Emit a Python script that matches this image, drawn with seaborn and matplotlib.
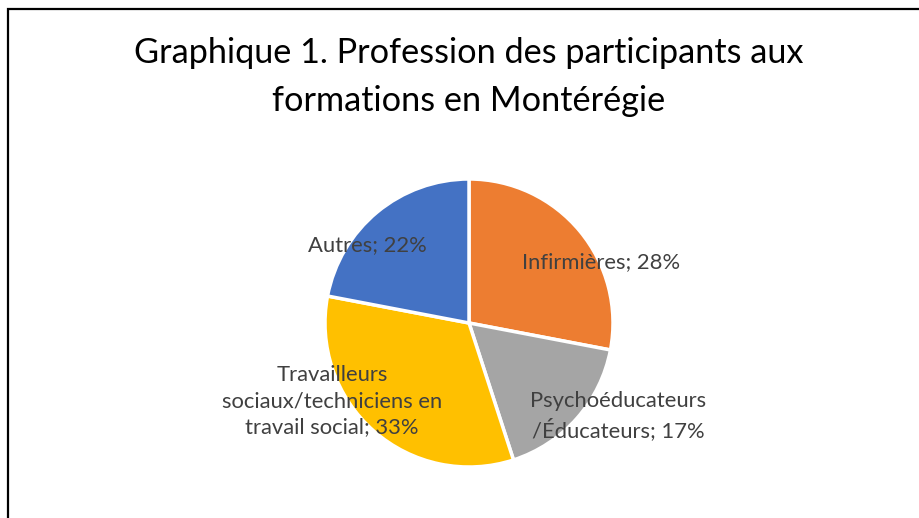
import matplotlib
matplotlib.use("Agg")
import matplotlib.pyplot as plt
import seaborn as sns
from matplotlib.patches import Rectangle

categories = ["Infirmières", "Psychoéducateurs\n/Éducateurs", "Travailleurs\nsociaux/techniciens en\ntravail social", "Autres"]
values = [28, 17, 33, 22]
colors = ["#ED7D31", "#A5A5A5", "#FFC000", "#4472C4"]
title = "Graphique 1. Profession des participants aux\nformations en Montérégie"

sns.set_theme(style="white")
plt.rcParams['font.family'] = ['Lato', 'DejaVu Sans']

W, H = 919, 518
fig = plt.figure(figsize=(W / 100, H / 100), dpi=100)
ax = fig.add_axes([0, 0, 1, 1])

cx, cy, R = 469, H - 323, 144
wedges, _ = ax.pie(values, colors=colors, startangle=90, counterclock=False,
                   center=(cx, cy), radius=R, frame=True,
                   wedgeprops=dict(edgecolor="white", linewidth=2.5))
ax.set_xlim(0, W)
ax.set_ylim(0, H)
ax.axis("off")

label_pos = [(601, 262), (618, 416), (332, 401), (367, 245)]
for cat, v, (lx, ly) in zip(categories, values, label_pos):
    ax.text(lx, H - ly, f"{cat}; {v}%", ha="center", va="center",
            fontsize=15.8, color="#404040", linespacing=1.38)

fig.text(469 / W, 1 - 77 / H, title, ha="center", va="center",
         fontsize=24.7, color="#000000", linespacing=1.58)

fig.patches.append(Rectangle((7.5 / W, -0.1), 1.2, 1.1 - 9.5 / H,
                             transform=fig.transFigure, fill=False,
                             edgecolor="black", linewidth=1.6, figure=fig))

fig.savefig("out.png", dpi=100)
